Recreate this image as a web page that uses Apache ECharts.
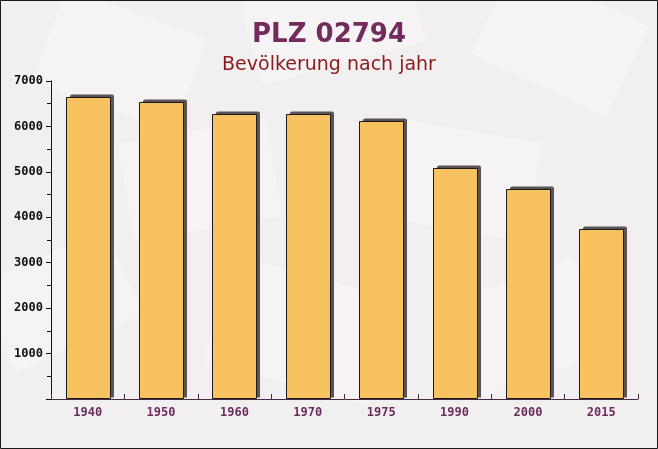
<!DOCTYPE html>
<html><head><meta charset="utf-8">
<script src="https://cdn.jsdelivr.net/npm/echarts@6/dist/echarts.min.js"></script>
<style>html,body{margin:0;padding:0;background:#f2eff0;}#c{width:658px;height:449px;}</style>
</head><body><div id="c"></div>
<script>
const categories = ['1940','1950','1960','1970','1975','1990','2000','2015'];
const population = [6645, 6545, 6275, 6275, 6130, 5080, 4625, 3735];
const yTicks = [1000,2000,3000,4000,5000,6000,7000];
const titleText = 'PLZ 02794';
const subtitleText = 'Bevölkerung nach jahr';

const chart = echarts.init(document.getElementById('c'), null, {renderer:'canvas'});
const env = [
  [120,60,150,100,-20],[330,10,170,110,15],[560,40,150,100,-25],
  [60,300,140,95,25],[300,330,170,110,-15],[520,330,150,100,20],
  [200,180,150,100,10],[460,180,150,100,-10]
];
const bgGraphics = env.map(e => ({
  type:'rect', x:e[0], y:e[1], rotation:e[4]*Math.PI/180, originX:0, originY:0,
  shape:{x:-e[2]/2, y:-e[3]/2, width:e[2], height:e[3]},
  style:{fill:'rgba(255,255,255,0.25)'}, z:-10, silent:true
}));
bgGraphics.push({type:'rect', shape:{x:0.5,y:0.5,width:657,height:448}, style:{fill:'none', stroke:'#1a1a1a', lineWidth:1}, z:100, silent:true});

const barData = population.map((v,i) => [i, v]);

chart.setOption({
  backgroundColor:'#f2eff0',
  animation:false,
  graphic: bgGraphics,
  title:[
    {text:titleText, left:'center', top:17, textStyle:{fontFamily:'DejaVu Sans', fontWeight:'bold', fontSize:26, color:'#722b5c'}},
    {text:subtitleText, left:'center', top:51, textStyle:{fontFamily:'DejaVu Sans', fontWeight:'normal', fontSize:19, color:'#8b1a1a'}}
  ],
  grid:{left:51, right:20, top:81, bottom:50},
  xAxis:{
    type:'category', data:categories,
    axisLine:{lineStyle:{color:'#4a2a40', width:1}},
    axisTick:{show:true, inside:true, length:5, lineStyle:{color:'#4a2a40'}},
    axisLabel:{fontFamily:'DejaVu Sans Mono', fontWeight:'bold', fontSize:12, color:'#6b2d5c', margin:8}
  },
  yAxis:{
    type:'value', min:0, max:7000, interval:1000,
    axisLine:{show:true, lineStyle:{color:'#111', width:1}},
    axisTick:{show:true, length:5, lineStyle:{color:'#111'}},
    minorTick:{show:true, splitNumber:2, length:4, lineStyle:{color:'#111'}},
    splitLine:{show:false},
    axisLabel:{fontFamily:'DejaVu Sans Mono', fontWeight:'bold', fontSize:12, color:'#111', margin:8,
      formatter: v => yTicks.indexOf(v) >= 0 ? String(v) : ''}
  },
  series:[{
    type:'custom', data:barData,
    encode:{x:0, y:1},
    renderItem:function(params, api){
      const top = api.coord([api.value(0), api.value(1)]);
      const base = api.coord([api.value(0), 0]);
      const band = api.size([1,0])[0];
      const w = Math.round(band*0.6);
      const x = Math.round(top[0] - w/2) + 0.5;
      const y = Math.round(top[1]) + 0.5;
      const h = Math.round(base[1]) - Math.round(top[1]) - 1;
      return {type:'group', children:[
        {type:'rect', shape:{x:x+3.5, y:y-3, width:w, height:h+2, r:[2,2,0,0]}, style:{fill:'rgba(75,65,70,0.9)'}},
        {type:'rect', shape:{x:x, y:y, width:w, height:h}, style:{fill:'#f8c260', stroke:'#1a1a1a', lineWidth:1}}
      ]};
    }
  }]
});
</script></body></html>
